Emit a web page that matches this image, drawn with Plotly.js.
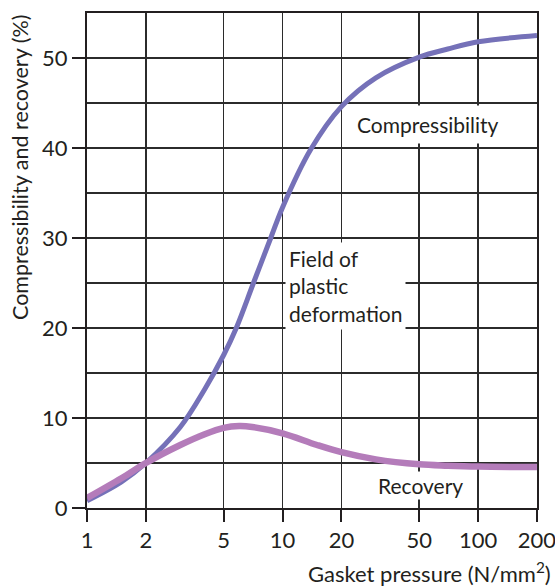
<!DOCTYPE html>
<html>
<head>
<meta charset="utf-8">
<script src="https://cdn.plot.ly/plotly-3.0.1.min.js"></script>
<style>html,body{margin:0;padding:0;background:#fff;}#chart{width:555px;height:586px;}</style>
</head>
<body>
<div id="chart"></div>
<script>
// Gasket pressure (N/mm2) and curves
const compPressure = [1, 1.5, 2, 3, 4, 5, 5.8, 7.1, 8.7, 10, 13.9, 20, 30, 50, 70, 100, 200];
const compressibility = [0.8, 2.9, 5, 9, 13.2, 17.0, 20, 25, 30, 33.4, 39.8, 44.6, 47.8, 50.1, 51.0, 51.8, 52.5];
const recPressure = [1, 1.5, 2, 3, 4, 5, 6, 7, 10, 15, 20, 30, 50, 70, 100, 200];
const recovery = [1.1, 3.3, 5.0, 7.0, 8.2, 8.9, 9.1, 9.0, 8.3, 7.0, 6.2, 5.4, 4.85, 4.7, 4.6, 4.55];
const xTickVals = [1, 2, 5, 10, 20, 50, 100, 200];
const xTickText = ['1', '2', '5', '10', '20', '50', '100', '200'];
const yTickVals = [0, 10, 20, 30, 40, 50];

const FONT = 'Lato, "Open Sans", sans-serif';
const INK = '#231f20';
const GRID = '#2b2b2b';

const traces = [
  {x: compPressure, y: compressibility, mode: 'lines', name: 'Compressibility',
   line: {color: '#7571b8', width: 5, shape: 'spline', smoothing: 1}},
  {x: recPressure, y: recovery, mode: 'lines', name: 'Recovery',
   line: {color: '#b47cba', width: 6.5, shape: 'spline', smoothing: 1}}
];

const layout = {
  width: 555, height: 586,
  margin: {l: 87, r: 18, t: 13, b: 78},
  paper_bgcolor: '#fff', plot_bgcolor: '#fff',
  showlegend: false,
  font: {family: FONT, color: INK, size: 21},
  xaxis: {
    type: 'log', range: [0, 2.3013],
    tickvals: xTickVals, ticktext: xTickText,
    ticks: 'outside', ticklen: 12, tickwidth: 2, tickcolor: INK,
    ticklabeloverflow: 'allow',
    tickfont: {size: 22, family: FONT, color: INK},
    showgrid: true, gridcolor: GRID, gridwidth: 1.5,
    showline: true, mirror: true, linecolor: INK, linewidth: 2,
    zeroline: false, fixedrange: true
  },
  yaxis: {
    range: [0, 55],
    tickvals: yTickVals,
    ticks: 'outside', ticklen: 13, tickwidth: 2, tickcolor: INK,
    tickfont: {size: 22, family: FONT, color: INK},
    showgrid: true, gridcolor: GRID, gridwidth: 1.5,
    minor: {dtick: 5, tick0: 0, showgrid: true, gridcolor: GRID, gridwidth: 1.5, ticks: ''},
    showline: true, mirror: true, linecolor: INK, linewidth: 2,
    zeroline: false, fixedrange: true
  },
  annotations: [
    {xref: 'paper', yref: 'paper', x: 1.035, y: -0.131, xanchor: 'right', yanchor: 'middle',
     text: 'Gasket pressure (N/mm<sup>2</sup>)', showarrow: false,
     font: {size: 22, family: FONT, color: INK}},
    {xref: 'paper', yref: 'paper', x: -0.15, y: 1.0, xanchor: 'center', yanchor: 'top',
     textangle: -90, text: 'Compressibility and recovery (%)', showarrow: false,
     font: {size: 21.5, family: FONT, color: INK}},
    {xref: 'x', yref: 'y', x: 1.744, y: 42.6, xanchor: 'center', yanchor: 'middle',
     text: 'Compressibility', showarrow: false, bgcolor: '#fff', borderpad: 6,
     font: {size: 21, family: FONT, color: INK}},
    {xref: 'x', yref: 'y', x: 1.01, y: 29.6, xanchor: 'left', yanchor: 'top', align: 'left',
     text: 'Field of<br>plastic<br>deformation', showarrow: false, bgcolor: '#fff', borderpad: 3,
     font: {size: 21, family: FONT, color: INK}},
    {xref: 'x', yref: 'y', x: 1.703, y: 2.45, xanchor: 'center', yanchor: 'middle',
     text: 'Recovery', showarrow: false, bgcolor: '#fff', borderpad: 1,
     font: {size: 21, family: FONT, color: INK}}
  ]
};

Plotly.newPlot('chart', traces, layout, {staticPlot: true, displayModeBar: false});
</script>
</body>
</html>
